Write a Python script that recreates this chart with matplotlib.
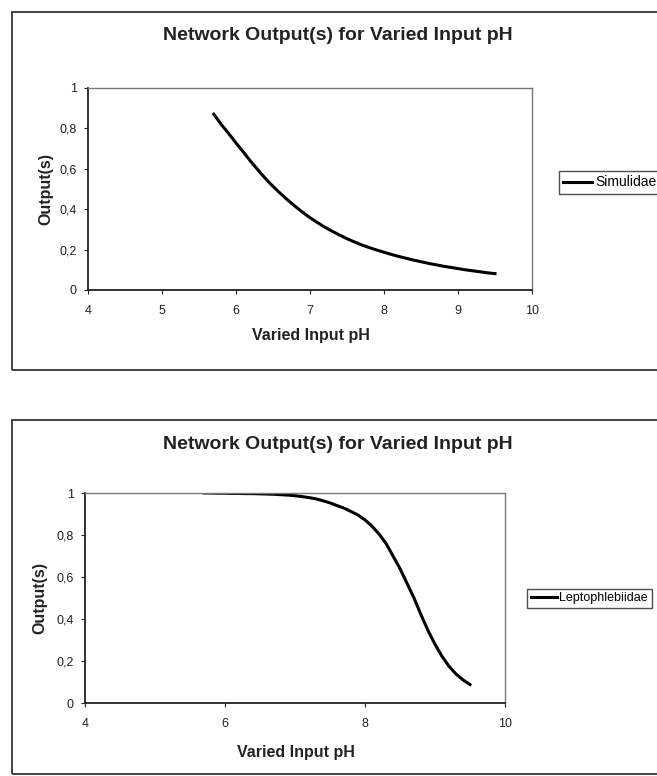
import matplotlib
matplotlib.use("Agg")
import matplotlib.pyplot as plt
from matplotlib.patches import Rectangle

plt.rcParams['font.family'] = ['Liberation Sans', 'DejaVu Sans']

# ---- data ----
ph = [5.7, 5.8, 5.9, 6.0, 6.1, 6.2, 6.3, 6.4, 6.5, 6.6, 6.7, 6.8, 6.9, 7.0,
      7.1, 7.2, 7.3, 7.4, 7.5, 7.6, 7.7, 7.8, 7.9, 8.0, 8.1, 8.2, 8.3, 8.4,
      8.5, 8.6, 8.7, 8.8, 8.9, 9.0, 9.1, 9.2, 9.3, 9.4, 9.5]
simulidae = [0.870, 0.820, 0.775, 0.728, 0.683, 0.636, 0.593, 0.551, 0.513,
             0.478, 0.445, 0.414, 0.385, 0.358, 0.334, 0.311, 0.291, 0.272,
             0.254, 0.238, 0.223, 0.210, 0.198, 0.187, 0.176, 0.166, 0.157,
             0.148, 0.140, 0.132, 0.125, 0.118, 0.112, 0.106, 0.100, 0.095,
             0.090, 0.085, 0.081]
leptophlebiidae = [1.000, 1.000, 0.999, 0.999, 0.998, 0.998, 0.997, 0.997,
                   0.996, 0.995, 0.994, 0.992, 0.990, 0.987, 0.983, 0.978,
                   0.972, 0.963, 0.953, 0.940, 0.928, 0.912, 0.895, 0.872,
                   0.842, 0.805, 0.760, 0.700, 0.640, 0.570, 0.500, 0.420,
                   0.345, 0.280, 0.222, 0.175, 0.138, 0.110, 0.088]
yticks = [0, 0.2, 0.4, 0.6, 0.8, 1]
yticklabels = ["0", "0,2", "0,4", "0,6", "0,8", "1"]
xticks_top = [4, 5, 6, 7, 8, 9, 10]
xticks_bottom = [4, 6, 8, 10]
title = "Network Output(s) for Varied Input pH"
xlabel = "Varied Input pH"
ylabel = "Output(s)"

W, H = 657, 776
fig = plt.figure(figsize=(W / 100, H / 100), dpi=100)
fig.patch.set_facecolor("white")


def fx(px):
    return px / W


def fy(py):
    return 1 - py / H


def panel(box_top, box_bottom, ax_rect, title_y, xt, series, name, leg_x, leg_y,
          ylab_x, xlab_y, leg_fs):
    # outer chart border
    fig.patches.append(Rectangle((fx(12), fy(box_bottom)), 1.2, fy(box_top) - fy(box_bottom),
                                 transform=fig.transFigure, fill=False,
                                 edgecolor="#333333", lw=1.3, zorder=0))
    l, r, t, b = ax_rect
    ax = fig.add_axes([fx(l), fy(b), fx(r) - fx(l), fy(t) - fy(b)])
    ax.plot(ph, series, color="black", lw=2.2, label=name)
    ax.set_xlim(4, 10)
    ax.set_ylim(0, 1)
    ax.set_xticks(xt)
    ax.set_xticklabels([str(v) for v in xt])
    ax.set_yticks(yticks)
    ax.set_yticklabels(yticklabels)
    ax.tick_params(axis="both", direction="out", length=3, width=0.8,
                   labelsize=9, colors="#222222", pad=5)
    ax.tick_params(axis="x", pad=8)
    for s in ("left", "bottom"):
        ax.spines[s].set_color("#222222")
        ax.spines[s].set_linewidth(1.3)
    for s in ("top", "right"):
        ax.spines[s].set_color("#777777")
        ax.spines[s].set_linewidth(1.0)
    ax.set_xlabel(xlabel, fontsize=11.5, fontweight="bold", color="#222222")
    ax.set_ylabel(ylabel, fontsize=11.5, fontweight="bold", color="#222222")
    ax.xaxis.set_label_coords(0.502, xlab_y)
    ax.yaxis.set_label_coords(ylab_x, 0.5)
    fig.text(fx(338), fy(title_y), title, ha="center", va="center",
             fontsize=14, fontweight="bold", color="#222222")
    leg = ax.legend(loc="center left", bbox_to_anchor=(fx(leg_x), fy(leg_y)),
                    bbox_transform=fig.transFigure, frameon=True, fancybox=False,
                    fontsize=leg_fs, handlelength=2.1, handletextpad=0.2,
                    borderpad=0.3, borderaxespad=0)
    leg.get_frame().set_edgecolor("#222222")
    leg.get_frame().set_linewidth(1.0)
    return ax


panel(12, 370, (88, 532, 88, 290), 35, xticks_top, simulidae, "Simulidae",
      559, 182.5, -0.079, -0.188, 10)
panel(420, 774, (85, 505, 493, 703), 445, xticks_bottom, leptophlebiidae,
      "Leptophlebiidae", 527, 598.5, -0.09, -0.2, 9)

fig.savefig("out.png", dpi=100, facecolor="white")
